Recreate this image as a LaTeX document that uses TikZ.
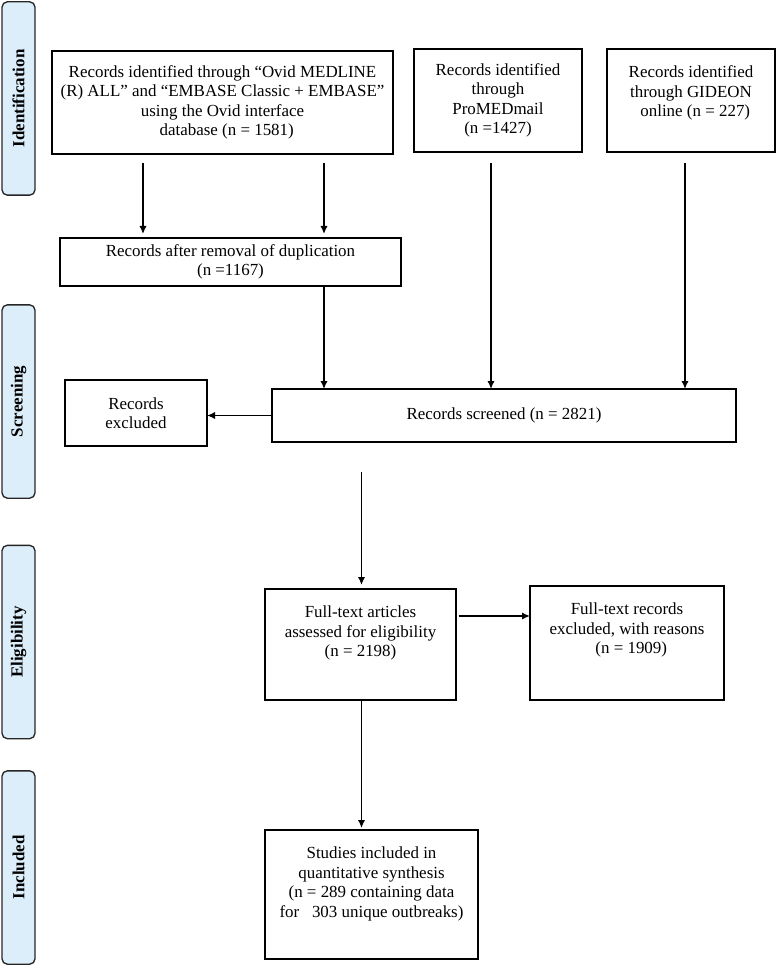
\documentclass[tikz,border=0pt]{standalone}
\usepackage{fontspec}
\setmainfont{Liberation Serif}
\usetikzlibrary{arrows.meta,positioning}
\definecolor{phasefill}{RGB}{221,238,251}
\begin{document}
\begin{tikzpicture}[x=0.75pt,y=-0.75pt,>={Latex[length=6pt,width=5.5pt]},
		font=\fontsize{12.7}{14.6}\selectfont,
		box/.style={draw,line width=1.1pt,inner sep=0pt,outer sep=0pt,align=center},
		txt/.style={inner sep=0pt,align=center},
		phase/.style={draw=black!85,line width=1pt,fill=phasefill,rounded corners=4pt,rotate=90,
			minimum width=145pt,minimum height=24.75pt,inner sep=0pt,font=\fontsize{12.7}{14.6}\selectfont\bfseries},
		arr/.style={->,line width=1.4pt}]
	\useasboundingbox (0,0) rectangle (776,966);
	% phases
	\node[phase] (idf) at (18.5,98.5) {Identification};
	\node[phase] (scr) at (18.5,401.5) {Screening};
	\node[phase] (elg) at (18.5,642) {Eligibility};
	\node[phase] (inc) at (18.5,867.5) {Included};
	% identification
	\node[box,minimum width=255.75pt,minimum height=77.25pt] (ovid) at (222.5,102.5)
		{Records identified through “Ovid MEDLINE\\(R) ALL” and “EMBASE Classic + EMBASE”\\using the Ovid interface\\\ \ database (n = 1581)};
	\node[box,minimum width=126pt,minimum height=77.25pt] (promed) at (498,100.5)
		{Records identified\\through\\ProMEDmail\\(n =1427)};
	\node[box,minimum width=126pt,minimum height=77.25pt] (gideon) at (691,100.5) {};
	\node[txt,below=12.5pt] (gideontxt) at (gideon.north) {Records identified\\through GIDEON\\\ \ online (n = 227)};
	\node[box,minimum width=255.75pt,minimum height=36pt] (dedup) at (230.5,262)
		{Records after removal of duplication\\(n =1167)};
	% screening
	\node[box,minimum width=348pt,minimum height=39.75pt] (screen) at (504,415.5) {Records screened (n = 2821)};
	\node[box,minimum width=106.5pt,minimum height=49.5pt] (excl) at (136,413) {Records\\excluded};
	% eligibility
	\node[box,minimum width=143.25pt,minimum height=83.25pt] (fulltext) at (360.5,644.5) {};
	\node[txt,below=12.5pt] (fulltexttxt) at (fulltext.north) {Full-text articles\\assessed for eligibility\\(n = 2198)};
	\node[box,minimum width=145.5pt,minimum height=85.5pt] (ftexcl) at (627,643) {};
	\node[txt,below=12.5pt] (ftexcltxt) at (ftexcl.north) {Full-text records\\excluded, with reasons\\\ \ (n = 1909)};
	% included
	\node[box,minimum width=159.75pt,minimum height=96.75pt] (incl) at (371.5,894.5) {};
	\node[txt,below=12.5pt] (incltxt) at (incl.north) {Studies included in\\quantitative synthesis\\(n = 289 containing data\\for~~~303 unique outbreaks)};
	% connectors
	\coordinate (c1) at (143,0);
	\coordinate (c2) at (324,0);
	\coordinate (c3) at (491,0);
	\coordinate (c4) at (685,0);
	\coordinate (c5) at (361.5,0);
	\coordinate (r1) at (0,163);
	\coordinate (r2) at (0,472);
	\coordinate (r3) at (0,616);
	\draw[arr,shorten >=3pt] (c1 |- r1) -- (c1 |- dedup.north);
	\draw[arr,shorten >=3pt] (c2 |- r1) -- (c2 |- dedup.north);
	\draw[arr] (dedup.south -| c2) -- (c2 |- screen.north);
	\draw[arr] (c3 |- r1) -- (c3 |- screen.north);
	\draw[arr] (c4 |- r1) -- (c4 |- screen.north);
	\draw[arr] (screen.west) -- (screen.west -| excl.east);
	\draw[arr,shorten >=3pt] (c5 |- r2) -- (c5 |- fulltext.north);
	\draw[arr] ([xshift=2pt]fulltext.east |- r3) -- (ftexcl.west |- r3);
	\draw[arr,shorten >=1.5pt] (fulltext.south -| c5) -- (c5 |- incl.north);
\end{tikzpicture}
\end{document}
